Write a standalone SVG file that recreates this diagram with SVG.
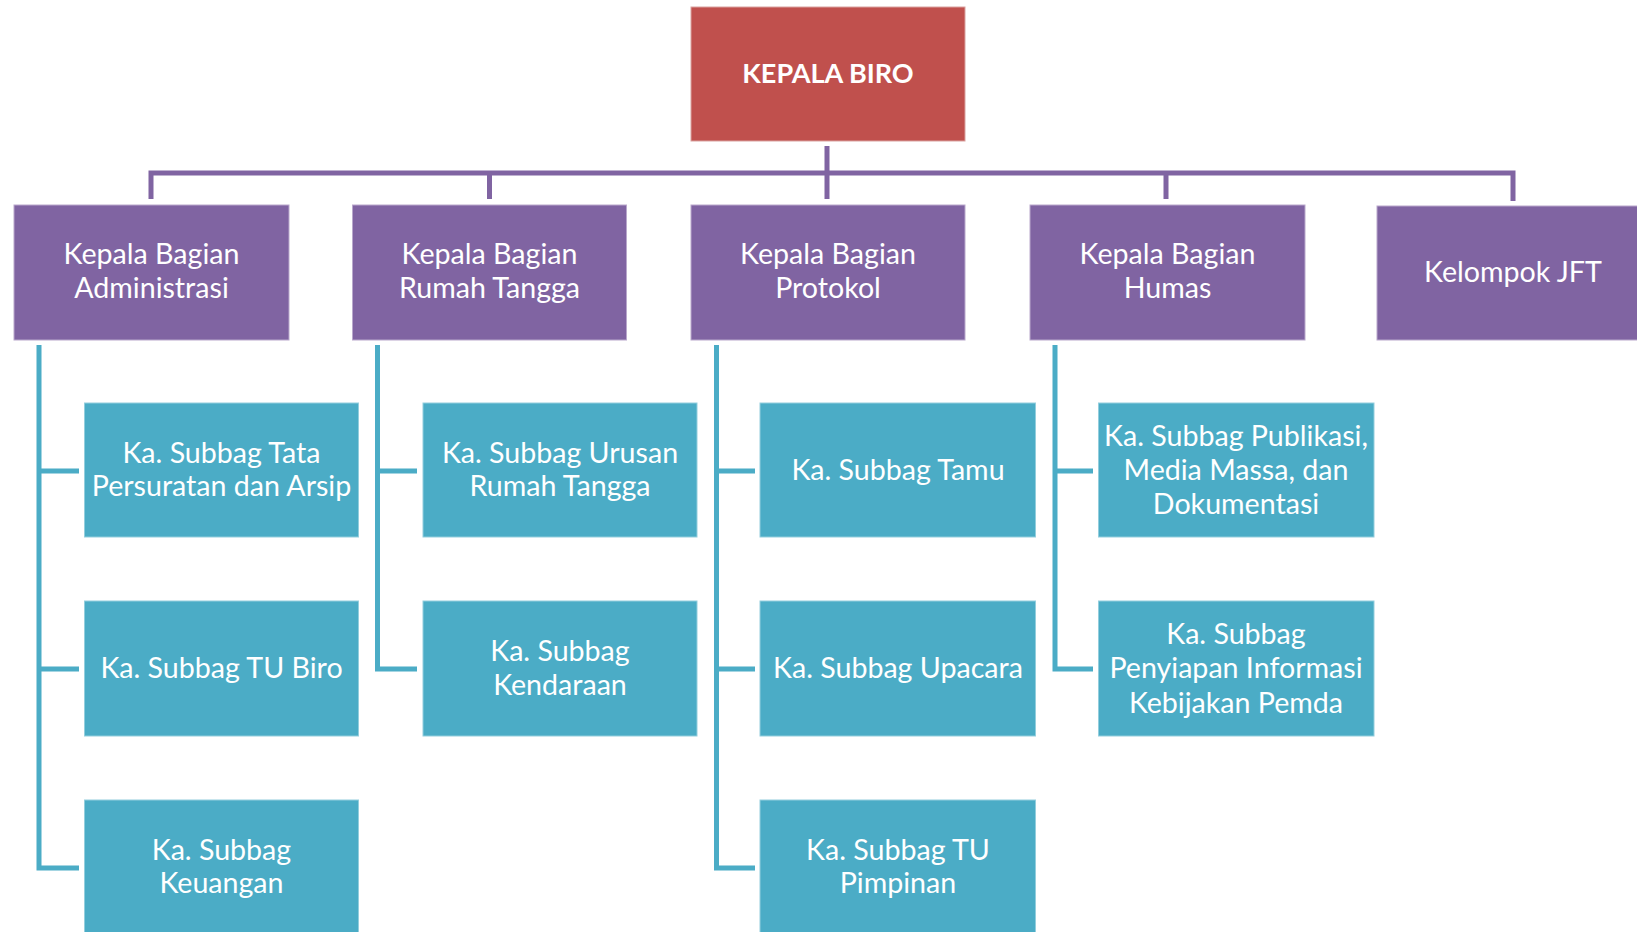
<svg xmlns="http://www.w3.org/2000/svg" width="1637" height="932" viewBox="0 0 1637 932">
<style>
.red{fill:#C0504D;stroke:#D9A2A0;stroke-width:1}
.pur{fill:#8064A2;stroke:#B9A8CC;stroke-width:1}
.teal{fill:#4BACC6;stroke:#93CEDD;stroke-width:1}
text{font-family:Lato,"Open Sans","Liberation Sans",sans-serif;font-size:28.6px;fill:#fff;text-anchor:middle}
.b{font-weight:bold;font-size:27px}
.pl{fill:none;stroke:#8064A2;stroke-width:5}
.tl{fill:none;stroke:#4BACC6;stroke-width:5}
</style>
<rect width="1637" height="932" fill="#fff"/>
<g id="connectors">
<path class="pl" d="M827 146V199M151 199V173H1513V201M489.5 173V199M1166 173V199"/>
<path class="tl" d="M39 345V868H79M39 471H79M39 669H79"/>
<path class="tl" d="M377.5 345V669H417M377.5 471H417"/>
<path class="tl" d="M716.5 345V868H755M716.5 471H755M716.5 669H755"/>
<path class="tl" d="M1055 345V669H1093M1055 471H1093"/>
</g>
<g id="kepala-biro"><rect class="red" x="691" y="7" width="274" height="134"/><text class="b" x="828" y="83">KEPALA BIRO</text></g>
<g id="kb-administrasi"><rect class="pur" x="14" y="205" width="275" height="135"/><text x="151.5" y="264">Kepala Bagian</text><text x="151.5" y="297.5">Administrasi</text></g>
<g id="kb-rumah-tangga"><rect class="pur" x="352.5" y="205" width="274" height="135"/><text x="489.5" y="264">Kepala Bagian</text><text x="489.5" y="297.5">Rumah Tangga</text></g>
<g id="kb-protokol"><rect class="pur" x="691" y="205" width="274" height="135"/><text x="828" y="264">Kepala Bagian</text><text x="828" y="297.5">Protokol</text></g>
<g id="kb-humas"><rect class="pur" x="1030" y="205" width="275" height="135"/><text x="1167.5" y="264">Kepala Bagian</text><text x="1167.5" y="297.5">Humas</text></g>
<g id="kelompok-jft"><rect class="pur" x="1377" y="206" width="275" height="134"/><text x="1513" y="282">Kelompok JFT</text></g>
<g id="sb-tata-persuratan"><rect class="teal" x="84.5" y="403" width="274" height="134"/><text x="221.5" y="462.5">Ka. Subbag Tata</text><text x="221.5" y="496">Persuratan dan Arsip</text></g>
<g id="sb-tu-biro"><rect class="teal" x="84.5" y="601" width="274" height="135"/><text x="221.5" y="678">Ka. Subbag TU Biro</text></g>
<g id="sb-keuangan"><rect class="teal" x="84.5" y="800" width="274" height="136"/><text x="221.5" y="859.5">Ka. Subbag</text><text x="221.5" y="893">Keuangan</text></g>
<g id="sb-urusan-rt"><rect class="teal" x="423" y="403" width="274" height="134"/><text x="560" y="462.5">Ka. Subbag Urusan</text><text x="560" y="496">Rumah Tangga</text></g>
<g id="sb-kendaraan"><rect class="teal" x="423" y="601" width="274" height="135"/><text x="560" y="661">Ka. Subbag</text><text x="560" y="694.5">Kendaraan</text></g>
<g id="sb-tamu"><rect class="teal" x="760" y="403" width="275.5" height="134"/><text x="898" y="479.5">Ka. Subbag Tamu</text></g>
<g id="sb-upacara"><rect class="teal" x="760" y="601" width="275.5" height="135"/><text x="898" y="678">Ka. Subbag Upacara</text></g>
<g id="sb-tu-pimpinan"><rect class="teal" x="760" y="800" width="275.5" height="136"/><text x="898" y="859.5">Ka. Subbag TU</text><text x="898" y="893">Pimpinan</text></g>
<g id="sb-publikasi"><rect class="teal" x="1098.5" y="403" width="275.5" height="134"/><text x="1236" y="445.5">Ka. Subbag Publikasi,</text><text x="1236" y="479.5">Media Massa, dan</text><text x="1236" y="514">Dokumentasi</text></g>
<g id="sb-penyiapan"><rect class="teal" x="1098.5" y="601" width="275.5" height="135"/><text x="1236" y="644">Ka. Subbag</text><text x="1236" y="678">Penyiapan Informasi</text><text x="1236" y="712.5">Kebijakan Pemda</text></g>
</svg>
